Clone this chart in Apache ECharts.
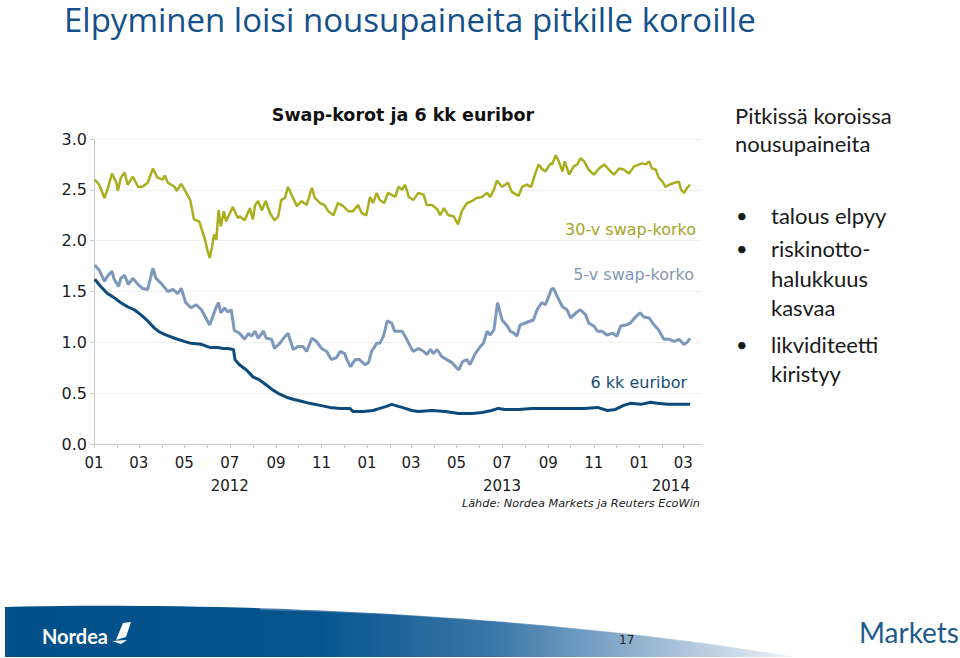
<!DOCTYPE html>
<html>
<head>
<meta charset="utf-8">
<script src="https://cdn.jsdelivr.net/npm/echarts@6/dist/echarts.min.js"></script>
<style>
html,body{margin:0;padding:0;background:#fff;}
#main{width:960px;height:658px;}
</style>
</head>
<body>
<div id="main"></div>
<script>
// ---------------- DATA ----------------
const slideTitle = 'Elpyminen loisi nousupaineita pitkille koroille';
const chartTitle = 'Swap-korot ja 6 kk euribor';
const seriesNames = ['30-v swap-korko', '5-v swap-korko', '6 kk euribor'];
const yTicks = [0, 0.5, 1.0, 1.5, 2.0, 2.5, 3.0];
const yearLabels = { '2012-07': '2012', '2013-07': '2013', '2014-03': '2014' };
const sourceText = 'Lähde: Nordea Markets ja Reuters EcoWin';
const sideHeading = ['Pitkissä koroissa', 'nousupaineita'];
const bullets = [['talous elpyy'], ['riskinotto-', 'halukkuus', 'kasvaa'], ['likviditeetti', 'kiristyy']];
const pageNumber = '17';

const dates30 = ['2012-01-02','2012-01-08','2012-01-15','2012-01-19','2012-01-25','2012-01-31','2012-02-02','2012-02-06','2012-02-11','2012-02-15','2012-02-22','2012-02-29','2012-03-06','2012-03-13','2012-03-20','2012-03-26','2012-04-02','2012-04-05','2012-04-09','2012-04-18','2012-04-21','2012-04-27','2012-05-03','2012-05-09','2012-05-14','2012-05-21','2012-05-28','2012-06-01','2012-06-04','2012-06-07','2012-06-10','2012-06-13','2012-06-16','2012-06-19','2012-06-23','2012-06-26','2012-07-05','2012-07-12','2012-07-14','2012-07-21','2012-07-28','2012-08-01','2012-08-04','2012-08-08','2012-08-13','2012-08-18','2012-08-24','2012-08-30','2012-09-04','2012-09-08','2012-09-13','2012-09-17','2012-09-22','2012-09-29','2012-10-05','2012-10-12','2012-10-19','2012-10-23','2012-10-30','2012-11-05','2012-11-10','2012-11-17','2012-11-23','2012-11-30','2012-12-07','2012-12-13','2012-12-20','2012-12-25','2012-12-31','2013-01-05','2013-01-09','2013-01-14','2013-01-18','2013-01-24','2013-01-29','2013-02-03','2013-02-08','2013-02-12','2013-02-17','2013-02-21','2013-02-26','2013-03-04','2013-03-11','2013-03-18','2013-03-22','2013-03-29','2013-04-05','2013-04-09','2013-04-14','2013-04-20','2013-04-27','2013-05-03','2013-05-08','2013-05-15','2013-05-22','2013-05-28','2013-06-04','2013-06-11','2013-06-15','2013-06-20','2013-06-24','2013-07-01','2013-07-09','2013-07-14','2013-07-23','2013-07-28','2013-08-03','2013-08-09','2013-08-14','2013-08-19','2013-08-23','2013-08-28','2013-09-04','2013-09-06','2013-09-11','2013-09-15','2013-09-20','2013-09-23','2013-09-29','2013-10-05','2013-10-10','2013-10-14','2013-10-19','2013-10-25','2013-11-01','2013-11-08','2013-11-15','2013-11-21','2013-11-28','2013-12-05','2013-12-11','2013-12-18','2013-12-25','2014-01-01','2014-01-05','2014-01-10','2014-01-14','2014-01-18','2014-01-23','2014-01-27','2014-02-01','2014-02-05','2014-02-10','2014-02-17','2014-02-23','2014-02-26','2014-03-02','2014-03-06','2014-03-10'];
const values30 = [2.60,2.55,2.42,2.50,2.66,2.57,2.49,2.62,2.67,2.55,2.63,2.53,2.53,2.57,2.71,2.62,2.60,2.64,2.57,2.53,2.49,2.56,2.48,2.40,2.21,2.19,2.03,1.91,1.83,1.93,2.06,2.01,2.30,2.14,2.29,2.19,2.33,2.22,2.24,2.20,2.32,2.21,2.35,2.39,2.30,2.39,2.27,2.20,2.24,2.40,2.42,2.53,2.45,2.34,2.39,2.35,2.52,2.42,2.37,2.35,2.29,2.25,2.37,2.34,2.29,2.29,2.35,2.27,2.25,2.43,2.37,2.47,2.40,2.37,2.47,2.45,2.43,2.53,2.50,2.55,2.43,2.40,2.47,2.45,2.35,2.35,2.31,2.25,2.32,2.25,2.24,2.16,2.29,2.37,2.39,2.42,2.43,2.47,2.43,2.50,2.59,2.53,2.57,2.48,2.44,2.53,2.55,2.53,2.65,2.75,2.71,2.68,2.76,2.75,2.84,2.78,2.68,2.78,2.65,2.73,2.75,2.81,2.78,2.70,2.65,2.71,2.75,2.70,2.65,2.71,2.70,2.66,2.73,2.75,2.76,2.75,2.78,2.71,2.70,2.62,2.58,2.53,2.55,2.57,2.58,2.50,2.47,2.52,2.55];

const dates5 = ['2012-01-02','2012-01-08','2012-01-15','2012-01-19','2012-01-25','2012-01-28','2012-02-03','2012-02-06','2012-02-11','2012-02-16','2012-02-22','2012-02-29','2012-03-06','2012-03-13','2012-03-20','2012-03-24','2012-03-31','2012-04-09','2012-04-16','2012-04-22','2012-04-27','2012-05-03','2012-05-10','2012-05-17','2012-05-24','2012-05-30','2012-06-04','2012-06-08','2012-06-13','2012-06-16','2012-06-19','2012-06-24','2012-06-28','2012-07-03','2012-07-07','2012-07-14','2012-07-21','2012-07-26','2012-07-30','2012-08-04','2012-08-08','2012-08-15','2012-08-19','2012-08-26','2012-08-30','2012-09-06','2012-09-11','2012-09-17','2012-09-24','2012-10-01','2012-10-07','2012-10-12','2012-10-19','2012-10-25','2012-11-01','2012-11-08','2012-11-14','2012-11-21','2012-11-26','2012-12-02','2012-12-05','2012-12-10','2012-12-16','2012-12-22','2012-12-29','2013-01-03','2013-01-07','2013-01-14','2013-01-18','2013-01-23','2013-01-28','2013-02-03','2013-02-07','2013-02-12','2013-02-17','2013-02-21','2013-02-28','2013-03-04','2013-03-11','2013-03-18','2013-03-22','2013-03-27','2013-03-31','2013-04-05','2013-04-11','2013-04-18','2013-04-25','2013-05-01','2013-05-04','2013-05-09','2013-05-15','2013-05-19','2013-05-26','2013-06-02','2013-06-06','2013-06-11','2013-06-15','2013-06-20','2013-06-25','2013-07-01','2013-07-08','2013-07-12','2013-07-17','2013-07-21','2013-07-25','2013-08-01','2013-08-08','2013-08-12','2013-08-17','2013-08-23','2013-08-28','2013-09-01','2013-09-05','2013-09-08','2013-09-13','2013-09-20','2013-09-26','2013-10-01','2013-10-08','2013-10-14','2013-10-21','2013-10-25','2013-11-01','2013-11-06','2013-11-12','2013-11-19','2013-11-26','2013-12-02','2013-12-07','2013-12-14','2013-12-20','2013-12-27','2014-01-02','2014-01-07','2014-01-14','2014-01-21','2014-01-27','2014-02-03','2014-02-10','2014-02-17','2014-02-23','2014-03-02','2014-03-06','2014-03-10'];
const values5 = [1.76,1.71,1.60,1.65,1.70,1.62,1.55,1.63,1.66,1.57,1.63,1.57,1.53,1.52,1.73,1.63,1.58,1.50,1.52,1.48,1.53,1.39,1.34,1.37,1.32,1.24,1.17,1.25,1.35,1.39,1.29,1.34,1.30,1.32,1.12,1.09,1.03,1.09,1.06,1.11,1.04,1.11,1.04,1.03,0.94,0.99,1.04,1.09,0.93,0.96,0.96,0.91,1.04,1.01,0.94,0.91,0.83,0.85,0.91,0.89,0.83,0.76,0.83,0.83,0.78,0.80,0.91,0.99,0.99,1.06,1.21,1.19,1.11,1.11,1.11,1.06,0.96,0.91,0.94,0.91,0.88,0.93,0.89,0.93,0.86,0.83,0.80,0.75,0.73,0.81,0.83,0.78,0.89,0.96,0.99,1.11,1.07,1.12,1.39,1.22,1.16,1.11,1.09,1.06,1.17,1.19,1.21,1.22,1.32,1.39,1.37,1.44,1.52,1.53,1.45,1.35,1.32,1.24,1.29,1.32,1.27,1.19,1.16,1.11,1.11,1.07,1.09,1.06,1.16,1.17,1.19,1.25,1.29,1.25,1.24,1.17,1.12,1.03,1.03,1.01,1.03,0.98,1.00,1.04];

const datesEur = ['2012-01-02','2012-01-10','2012-01-19','2012-01-28','2012-02-06','2012-02-15','2012-02-24','2012-03-04','2012-03-13','2012-03-22','2012-03-29','2012-04-07','2012-04-18','2012-05-01','2012-05-10','2012-05-24','2012-06-04','2012-06-15','2012-06-22','2012-06-28','2012-07-06','2012-07-08','2012-07-14','2012-07-23','2012-08-01','2012-08-10','2012-08-19','2012-08-28','2012-09-06','2012-09-15','2012-09-24','2012-10-05','2012-10-16','2012-10-30','2012-11-12','2012-11-26','2012-12-09','2012-12-13','2012-12-27','2013-01-09','2013-01-18','2013-01-27','2013-02-03','2013-02-12','2013-02-17','2013-03-02','2013-03-11','2013-03-29','2013-04-16','2013-05-04','2013-05-22','2013-06-04','2013-06-17','2013-06-26','2013-07-05','2013-07-23','2013-08-10','2013-09-05','2013-09-22','2013-10-19','2013-11-06','2013-11-19','2013-11-30','2013-12-11','2013-12-20','2014-01-03','2014-01-16','2014-01-25','2014-02-08','2014-02-21','2014-03-10'];
const valuesEur = [1.62,1.55,1.48,1.44,1.39,1.35,1.32,1.27,1.21,1.14,1.10,1.07,1.04,1.01,0.99,0.98,0.95,0.95,0.94,0.94,0.93,0.83,0.78,0.73,0.66,0.63,0.58,0.53,0.49,0.46,0.44,0.42,0.40,0.38,0.36,0.35,0.35,0.32,0.32,0.33,0.35,0.37,0.39,0.37,0.36,0.33,0.32,0.33,0.32,0.30,0.30,0.31,0.33,0.35,0.34,0.34,0.35,0.35,0.35,0.35,0.36,0.33,0.34,0.38,0.40,0.39,0.41,0.40,0.39,0.39,0.39];

// ---------------- STYLE ----------------
const colors = ['#a9ae1f', '#7d98bb', '#0b4a7a'];
const labelColors = ['#a3a824', '#8497b2', '#174d78'];
const axisFont = '"DejaVu Sans", Verdana, sans-serif';
const slideFont = 'Lato, "Open Sans", sans-serif';
const titleFont = '"Open Sans", Lato, sans-serif';

const chart = echarts.init(document.getElementById('main'), null, { renderer: 'svg' });

function pairs(d, v) { return d.map((x, i) => [x, v[i]]); }

function txt(x, y, text, font, fill, extra) {
  return { type: 'text', x: x, y: y, silent: true,
    style: Object.assign({ text: text, font: font, fill: fill, verticalAlign: 'middle' }, extra || {}) };
}
// sample a cubic bezier into polygon points (decorative footer shape)
function bez(p0, p1, p2, p3, n) {
  const pts = [];
  for (let i = 0; i <= n; i++) {
    const t = i / n, u = 1 - t;
    pts.push([u*u*u*p0[0] + 3*u*u*t*p1[0] + 3*u*t*t*p2[0] + t*t*t*p3[0],
              u*u*u*p0[1] + 3*u*u*t*p1[1] + 3*u*t*t*p2[1] + t*t*t*p3[1]]);
  }
  return pts;
}

const option = {
  animation: false,
  backgroundColor: '#ffffff',
  title: {
    text: chartTitle,
    left: 398, top: 101, textAlign: 'center',
    textStyle: { fontFamily: axisFont, fontWeight: 'bold', fontSize: 17.5, color: '#111' }
  },
  grid: { left: 94, right: 258, top: 139, bottom: 214, containLabel: false },
  xAxis: {
    type: 'time',
    min: '2012-01-01',
    max: '2014-03-26',
    splitNumber: 27,
    minInterval: 27 * 86400000,
    maxInterval: 32 * 86400000,
    axisLine: { lineStyle: { color: '#c8c8c8', width: 1 } },
    axisTick: { show: true, length: 4, lineStyle: { color: '#c8c8c8' } },
    splitLine: { show: false },
    axisLabel: {
      fontFamily: axisFont, fontSize: 15, color: '#1a1a1a', margin: 7, lineHeight: 23,
      hideOverlap: false,
      formatter: function (val) {
        const d = new Date(val);
        if (d.getDate() !== 1) return '';
        const m = d.getMonth() + 1;
        if (m % 2 === 0) return '';
        const mm = (m < 10 ? '0' : '') + m;
        const key = d.getFullYear() + '-' + mm;
        if (yearLabels[key]) {
          if (key === '2014-03') return mm + '\n{y2|' + yearLabels[key] + '}';
          return mm + '\n' + yearLabels[key];
        }
        return mm;
      },
      rich: {
        y2: { fontFamily: axisFont, fontSize: 15, color: '#1a1a1a', padding: [0, 25, 0, 0], lineHeight: 23 }
      }
    }
  },
  yAxis: {
    type: 'value',
    min: 0, max: 3, interval: 0.5,
    axisLine: { show: true, lineStyle: { color: '#c8c8c8' } },
    axisTick: { show: true, length: 4, lineStyle: { color: '#c8c8c8' } },
    splitLine: { show: true, lineStyle: { color: '#f0f0f0', width: 1 } },
    axisLabel: {
      fontFamily: axisFont, fontSize: 16, color: '#1a1a1a', margin: 7,
      formatter: v => yTicks.indexOf(v) >= 0 ? v.toFixed(1) : ''
    }
  },
  series: [
    { name: seriesNames[0], type: 'line', data: pairs(dates30, values30), showSymbol: false, symbol: 'none',
      lineStyle: { color: colors[0], width: 2.5 }, itemStyle: { color: colors[0] } },
    { name: seriesNames[1], type: 'line', data: pairs(dates5, values5), showSymbol: false, symbol: 'none',
      lineStyle: { color: colors[1], width: 3 }, itemStyle: { color: colors[1] } },
    { name: seriesNames[2], type: 'line', data: pairs(datesEur, valuesEur), showSymbol: false, symbol: 'none',
      lineStyle: { color: colors[2], width: 3 }, itemStyle: { color: colors[2] } }
  ]
};

const g = [];
// footer band
const bandTop = bez([5, 607], [250, 601], [560, 617], [795, 657], 40);
g.push({
  type: 'polygon', silent: true, z: -10,
  shape: { points: bandTop.concat([[5, 657]]) },
  style: { fill: { type: 'linear', x: 0, y: 0, x2: 1, y2: 0, colorStops: [
    { offset: 0, color: '#02508a' }, { offset: 0.4, color: '#07558f' },
    { offset: 0.62, color: '#3b77a7' }, { offset: 0.85, color: '#a9c2da' }, { offset: 1, color: '#eef3f8' }] } }
});
const hiTop = bez([260, 605], [470, 604], [650, 627], [795, 657], 30);
const hiBot = bez([795, 657], [640, 633], [460, 614], [260, 610], 30);
g.push({ type: 'polygon', silent: true, z: -9, shape: { points: hiTop.concat(hiBot) }, style: { fill: 'rgba(255,255,255,0.25)' } });
// slide title
g.push(txt(64, 19, slideTitle, '33px ' + titleFont, '#14508a', { lineHeight: 36 }));
// series labels (right aligned)
g.push(txt(696, 229, seriesNames[0], '16px ' + axisFont, labelColors[0], { align: 'right' }));
g.push(txt(694, 274, seriesNames[1], '16px ' + axisFont, labelColors[1], { align: 'right' }));
g.push(txt(687, 382, seriesNames[2], '16px ' + axisFont, labelColors[2], { align: 'right' }));
// source
g.push(txt(700, 503, sourceText, 'italic 11.3px ' + axisFont, '#222', { align: 'right' }));
// side text
g.push(txt(735, 115, sideHeading[0], '22px ' + slideFont, '#1a1a1a'));
g.push(txt(735, 143, sideHeading[1], '22px ' + slideFont, '#1a1a1a'));
const bulletLineY = [[215], [248, 278, 307], [344, 373]];
bullets.forEach((lines, bi) => {
  g.push(txt(736, bulletLineY[bi][0], '•', '20px ' + slideFont, '#1a1a1a'));
  lines.forEach((ln, li) => g.push(txt(771, bulletLineY[bi][li], ln, '22px ' + slideFont, '#1a1a1a')));
});
// footer texts/logo
g.push(txt(42, 636, 'Nordea', 'bold 20px ' + slideFont, '#ffffff'));
g.push({ type: 'polygon', silent: true, shape: { points: [[116, 640], [123, 623], [131, 622], [126, 637]] }, style: { fill: '#ffffff' } });
g.push({ type: 'polygon', silent: true, shape: { points: [[112, 641], [127, 640], [121, 644]] }, style: { fill: '#ffffff' } });
g.push(txt(619, 640, pageNumber, '12px ' + axisFont, '#222'));
g.push(txt(859, 632, 'Markets', '28px ' + slideFont, '#1d5b8e'));

option.graphic = { elements: g };
chart.setOption(option);
</script>
</body>
</html>
